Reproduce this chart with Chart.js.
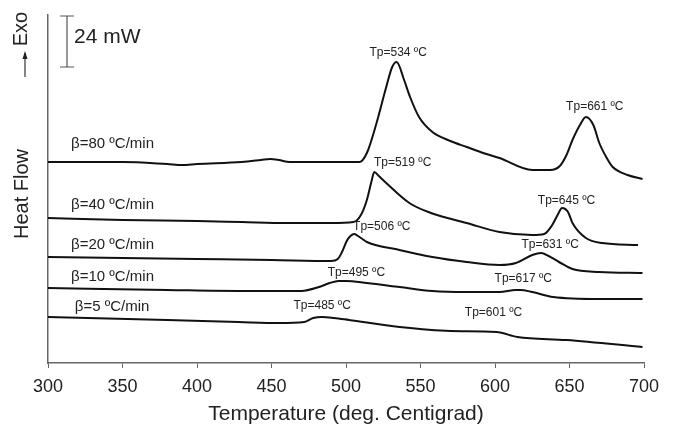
<!DOCTYPE html>
<html lang="en">
<head>
  <meta charset="UTF-8">
  <title>DSC curves</title>
  <style>
    html, body { margin: 0; padding: 0; background: #fff; }
    #wrap { width: 676px; height: 431px; }
  </style>
</head>
<body>
  <div id="wrap"><canvas id="dscChart" width="676" height="431"></canvas></div>

  <script src="https://cdn.jsdelivr.net/npm/chart.js"></script>
  <script>
    // heating rates, ºC/min (top curve first)
    const rates = [80, 40, 20, 10, 5];
    const xTicks = [300, 350, 400, 450, 500, 550, 600, 650, 700];

    // heat flow (arbitrary units, exo up, curves offset)
    const temp80 = [300, 350, 380, 390, 400, 430, 443, 449, 455, 462, 500, 509, 514, 520.5, 527, 531, 534, 539, 543, 549, 558, 570, 581, 592, 603, 625, 637, 643.5, 648, 652, 657, 661, 666, 670, 675, 679, 689, 699];
    const flow80 = [201, 201, 199, 198, 199, 201, 203, 204, 203, 201, 201, 201, 210, 240, 276, 296, 301, 283, 266, 246, 231, 222, 216, 210, 205, 193, 193, 197, 208, 223, 238, 246, 238, 220, 205, 196, 188, 184];

    const temp40 = [300, 350, 400, 430, 460, 490, 505, 510, 514, 517, 519, 522, 527, 542.5, 557, 581, 603, 625, 633, 638, 642, 645, 649, 652, 661, 672, 696];
    const flow40 = [145, 143, 142, 141, 140, 140, 141, 148, 163, 181, 191, 187, 180, 160, 150, 140, 131, 128, 129, 137, 148, 155, 151, 140, 125, 120, 118];

    const temp20 = [300, 350, 400, 450, 490, 494.5, 497, 500.5, 503, 505.5, 508, 511, 514, 536, 558, 581, 603, 614, 625, 631, 636, 643, 652, 670, 699];
    const flow20 = [106, 105, 104, 103, 102, 104, 110, 122, 127, 129, 127, 124, 121, 113, 106, 101, 98, 100, 108, 110, 107, 101, 94, 91, 90];

    const temp10 = [300, 380, 428, 470, 482, 489, 495, 500, 514, 536, 558, 581, 603, 614, 617, 625, 639, 670, 699];
    const flow10 = [75, 73, 72, 72, 76, 80, 82, 82, 80, 76, 72, 71, 71, 73, 73, 71, 66, 64, 64];

    const temp5 = [300, 380, 428, 455, 472, 478, 484, 492, 502, 536, 570, 601, 615, 648, 699];
    const flow5 = [46, 43, 41, 40, 41, 45, 46, 45, 43, 36, 32, 31, 26, 23, 16];

    // peak temperatures Tp (ºC) per curve
    const peaks80 = [534, 661];
    const peaks40 = [519, 645];
    const peaks20 = [506, 631];
    const peaks10 = [495, 617];
    const peaks5 = [485, 601];

    // where each Tp label sits (temperature, heat flow units)
    const tpLabelAt = [
      [[535, 310], [667, 256]],
      [[538, 200], [648, 162]],
      [[524, 136], [637, 118]],
      [[507, 90], [619, 84]],
      [[484, 57], [599, 50]]
    ];
    // series labels (left edge temperature, heat flow units)
    const rateLabelAt = [[315.5, 219], [315.5, 158], [315.5, 118], [315.5, 86], [318, 56]];

    const scaleBar = { mw: 24, top: 347, bottom: 296 };

    const temps = [temp80, temp40, temp20, temp10, temp5];
    const flows = [flow80, flow40, flow20, flow10, flow5];
    const peaks = [peaks80, peaks40, peaks20, peaks10, peaks5];

    const datasets = rates.map((r, i) => ({
      label: 'β=' + r + ' ºC/min',
      data: temps[i].map((t, k) => ({ x: t, y: flows[i][k] })),
      borderColor: '#111',
      borderWidth: 2,
      pointRadius: 0,
      fill: false,
      cubicInterpolationMode: 'monotone'
    }));

    const textColor = '#222';
    const fontFamily = '"Liberation Sans", Arial, sans-serif';

    // texts, arrow and scale bar
    const annotations = {
      id: 'annotations',
      afterDraw(chart) {
        const { ctx, chartArea, scales: { x, y } } = chart;
        ctx.save();
        ctx.fillStyle = textColor;
        ctx.textBaseline = 'middle';

        // Tp labels
        ctx.font = '12px ' + fontFamily;
        ctx.textAlign = 'center';
        peaks.forEach((pk, i) => {
          pk.forEach((tp, j) => {
            const at = tpLabelAt[i][j];
            ctx.fillText('Tp=' + tp + ' ºC', x.getPixelForValue(at[0]), y.getPixelForValue(at[1]));
          });
        });

        // heating-rate labels
        ctx.font = '15px ' + fontFamily;
        ctx.textAlign = 'left';
        rates.forEach((r, i) => {
          const at = rateLabelAt[i];
          ctx.fillText('β=' + r + ' ºC/min', x.getPixelForValue(at[0]), y.getPixelForValue(at[1]));
        });

        // scale bar
        const bx = chartArea.left + 19;
        const bt = y.getPixelForValue(scaleBar.top);
        const bb = y.getPixelForValue(scaleBar.bottom);
        ctx.strokeStyle = '#555';
        ctx.lineWidth = 1.2;
        ctx.beginPath();
        ctx.moveTo(bx, bt); ctx.lineTo(bx, bb);
        ctx.moveTo(bx - 7, bt); ctx.lineTo(bx + 7, bt);
        ctx.moveTo(bx - 7, bb); ctx.lineTo(bx + 7, bb);
        ctx.stroke();
        ctx.font = '21px ' + fontFamily;
        ctx.fillText(scaleBar.mw + ' mW', bx + 7, (bt + bb) / 2 - 4);

        // rotated axis texts
        ctx.save();
        ctx.translate(chartArea.left - 26, (chartArea.top + chartArea.bottom) / 2 + 5);
        ctx.rotate(-Math.PI / 2);
        ctx.textAlign = 'center';
        ctx.font = '20px ' + fontFamily;
        ctx.fillText('Heat Flow', 0, 0);
        ctx.restore();

        ctx.save();
        ctx.translate(chartArea.left - 27, chartArea.top + 14);
        ctx.rotate(-Math.PI / 2);
        ctx.textAlign = 'center';
        ctx.font = '20px ' + fontFamily;
        ctx.fillText('Exo', 0, 0);
        ctx.restore();

        // exo arrow
        const ax = chartArea.left - 23;
        ctx.strokeStyle = '#333';
        ctx.lineWidth = 1.2;
        ctx.beginPath();
        ctx.moveTo(ax, chartArea.top + 62);
        ctx.lineTo(ax, chartArea.top + 38);
        ctx.stroke();
        ctx.beginPath();
        ctx.moveTo(ax, chartArea.top + 36);
        ctx.lineTo(ax - 2.5, chartArea.top + 44);
        ctx.lineTo(ax + 2.5, chartArea.top + 44);
        ctx.closePath();
        ctx.fill();

        ctx.restore();
      }
    };

    new Chart(document.getElementById('dscChart'), {
      type: 'line',
      data: { datasets: datasets },
      options: {
        responsive: false,
        animation: false,
        layout: { padding: { left: 48, right: 32, top: 15, bottom: 0 } },
        plugins: { legend: { display: false }, tooltip: { enabled: false } },
        scales: {
          x: {
            type: 'linear',
            min: 300,
            max: 700,
            afterBuildTicks: (scale) => { scale.ticks = xTicks.map(v => ({ value: v })); },
            grid: { display: true, drawOnChartArea: false, drawTicks: true, tickLength: 5, color: '#666' },
            border: { display: true, color: '#666', width: 1.5 },
            ticks: { color: textColor, font: { size: 18, family: fontFamily }, padding: 8, maxRotation: 0 },
            title: {
              display: true,
              text: 'Temperature (deg. Centigrad)',
              color: textColor,
              font: { size: 21, family: fontFamily },
              padding: { top: -3.8, bottom: 4 }
            }
          },
          y: {
            type: 'linear',
            min: 0,
            max: 348,
            grid: { display: false, drawTicks: false },
            border: { display: true, color: '#666', width: 1.5 },
            ticks: { display: false }
          }
        }
      },
      plugins: [annotations]
    });
  </script>
</body>
</html>
